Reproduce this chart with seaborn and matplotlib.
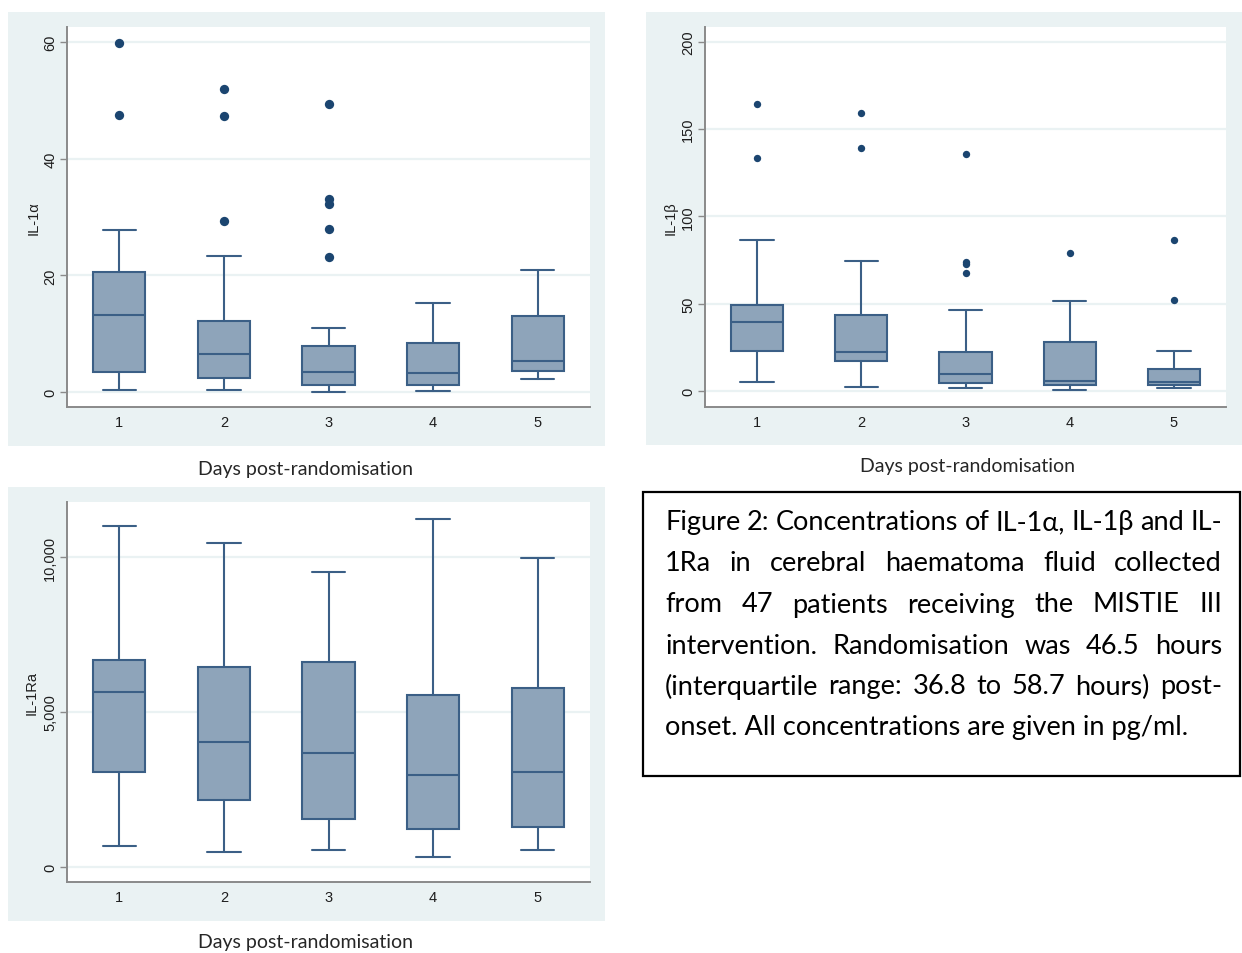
import matplotlib
matplotlib.use("Agg")
from matplotlib import pyplot as plt
from matplotlib.patches import Rectangle
import pandas as pd
import seaborn as sns

# days post-randomisation
days = [1, 2, 3, 4, 5]

# IL-1alpha box stats
il1a_whislo = [0.3, 0.3, 0.0, 0.1, 2.2]
il1a_q1 = [3.4, 2.4, 1.2, 1.2, 3.6]
il1a_med = [13.2, 6.5, 3.4, 3.3, 5.3]
il1a_q3 = [20.6, 12.2, 7.9, 8.4, 13.0]
il1a_whishi = [27.8, 23.3, 11.0, 15.3, 20.9]
il1a_out = [[59.8, 47.5], [52.0, 47.3, 29.3], [49.4, 33.0, 32.2, 28.0, 23.1], [], []]

# IL-1beta
il1b_whislo = [5.2, 2.3, 1.7, 0.6, 1.7]
il1b_q1 = [22.9, 17.2, 4.6, 3.4, 3.4]
il1b_med = [39.5, 22.3, 9.7, 5.7, 5.2]
il1b_q3 = [49.3, 43.6, 22.3, 28.1, 12.6]
il1b_whishi = [86.5, 74.5, 46.4, 51.6, 22.9]
il1b_out = [[164.5, 133.5], [159.3, 139.3], [135.8, 74.0, 72.8, 67.6], [79.0], [86.5, 52.0]]

# IL-1Ra
il1ra_whislo = [675, 480, 545, 320, 545]
il1ra_q1 = [3055, 2155, 1545, 1220, 1285]
il1ra_med = [5660, 4020, 3665, 2960, 3055]
il1ra_q3 = [6690, 6460, 6625, 5560, 5790]
il1ra_whishi = [11000, 10450, 9520, 11220, 9970]
il1ra_out = [[], [], [], [], []]

caption_lines = [
    "Figure 2: Concentrations of IL-1α, IL-1β and IL-",
    "1Ra in cerebral haematoma fluid collected",
    "from 47 patients receiving the MISTIE III",
    "intervention. Randomisation was 46.5 hours",
    "(interquartile range: 36.8 to 58.7 hours) post-",
    "onset. All concentrations are given in pg/ml.",
]

sns.set_theme(style="white")
plt.rcParams["font.family"] = ["Liberation Sans", "DejaVu Sans"]

W, H = 1242, 954
fig = plt.figure(figsize=(W / 100, H / 100), dpi=100)

BG = "#eaf2f3"
FILL = "#8ea4ba"
EDGE = "#3b5f86"
DOT = "#1b4570"
AXC = "#8a8a8a"
TXT = "#1e1e1e"
cap_font = ["Lato", "DejaVu Sans"]


def px_rect(x0, y0, x1, y1):
    return [x0 / W, 1 - y1 / H, (x1 - x0) / W, (y1 - y0) / H]


# graph region backgrounds
for (x0, y0, x1, y1) in [(8, 13, 605, 447), (646, 13, 1242, 446), (8, 488, 605, 922)]:
    r = px_rect(x0, y0, x1, y1)
    fig.add_artist(Rectangle((r[0], r[1]), r[2], r[3], transform=fig.transFigure,
                             facecolor=BG, edgecolor="none", zorder=0))


def box_panel(rect, lo, q1, med, q3, hi, outs, ylim, yticks, ylab, ticklabels, dot_s, labx):
    ax = fig.add_axes(px_rect(*rect))
    stats = [dict(whislo=a, q1=b, med=c, q3=d, whishi=e, fliers=[])
             for a, b, c, d, e in zip(lo, q1, med, q3, hi)]
    ax.bxp(stats, positions=days, widths=0.5, capwidths=0.32, patch_artist=True,
           showfliers=False,
           boxprops=dict(facecolor=FILL, edgecolor=EDGE, linewidth=1.5),
           medianprops=dict(color=EDGE, linewidth=1.5),
           whiskerprops=dict(color=EDGE, linewidth=1.5),
           capprops=dict(color=EDGE, linewidth=1.5))
    pts = pd.DataFrame([(d, v) for d, vs in zip(days, outs) for v in vs], columns=["day", "value"])
    if len(pts):
        sns.scatterplot(x="day", y="value", data=pts, ax=ax, color=DOT, s=dot_s,
                        edgecolor=DOT, linewidth=0, zorder=5)
    ax.set_xlim(0.5, 5.5)
    ax.set_ylim(*ylim)
    ax.set_yticks(yticks)
    ax.set_yticklabels(ticklabels)
    ax.set_xticks(days)
    ax.set_xticklabels([str(d) for d in days])
    for yv in yticks:
        ax.axhline(yv, color=BG, lw=1.6, zorder=0)
    ax.set_xlabel("")
    ax.set_ylabel(ylab, fontsize=10.5, color=TXT)
    ax.yaxis.set_label_coords(labx, 0.5)
    ax.tick_params(axis="y", labelrotation=90, length=5, width=1, color=AXC,
                   labelsize=10.5, labelcolor=TXT, pad=2, left=True)
    for lab in ax.get_yticklabels():
        lab.set_va("center")
    ax.tick_params(axis="x", length=0, labelsize=10.5, labelcolor=TXT, pad=6)
    for s in ["top", "right"]:
        ax.spines[s].set_visible(False)
    for s in ["left", "bottom"]:
        ax.spines[s].set_color(AXC)
        ax.spines[s].set_linewidth(1.4)
    ax.set_facecolor("white")
    return ax


ax1 = box_panel((67, 28, 590, 408), il1a_whislo, il1a_q1, il1a_med, il1a_q3, il1a_whishi,
                il1a_out, (-2.57, 62.57), [0, 20, 40, 60], "IL-1α",
                ["0", "20", "40", "60"], 45, -0.05)
ax2 = box_panel((705, 28, 1226, 408), il1b_whislo, il1b_q1, il1b_med, il1b_q3, il1b_whishi,
                il1b_out, (-9.2, 208.6), [0, 50, 100, 150, 200], "IL-1β",
                ["0", "50", "100", "150", "200"], 28, -0.052)
ax3 = box_panel((67, 503, 590, 883), il1ra_whislo, il1ra_q1, il1ra_med, il1ra_q3, il1ra_whishi,
                il1ra_out, (-484, 11774), [0, 5000, 10000], "IL-1Ra",
                ["0", "5,000", "10,000"], 45, -0.054)

# x titles under each graph region
for (cx, cy) in [(305, 469), (967, 467), (305, 943)]:
    fig.text(cx / W, 1 - cy / H, "Days post-randomisation", ha="center", va="center",
             fontsize=14, family=cap_font, color="#262626")

# caption box
r = px_rect(643, 493, 1240, 777)
fig.add_artist(Rectangle((r[0], r[1]), r[2], r[3], transform=fig.transFigure,
                         facecolor="white", edgecolor="black", linewidth=1.6))

cap_fs = 19.5
x_left, x_right = 665, 1222
line_y = [523, 564, 605, 646, 687, 728]
renderer = fig.canvas.get_renderer()
for i, (line, yy) in enumerate(zip(caption_lines, line_y)):
    if i == len(caption_lines) - 1:
        fig.text(x_left / W, 1 - yy / H, line, fontsize=cap_fs, family=cap_font,
                 va="center", ha="left", color="black")
        continue
    words = line.split(" ")
    texts = [fig.text(0, 1 - yy / H, w, fontsize=cap_fs, family=cap_font,
                      va="center", ha="left", color="black") for w in words]
    widths = [t.get_window_extent(renderer).width for t in texts]
    gap = (x_right - x_left - sum(widths)) / (len(words) - 1)
    x = x_left
    for t, w in zip(texts, widths):
        t.set_x(x / W)
        x += w + gap

plt.savefig("out.png", dpi=100, facecolor="white")
